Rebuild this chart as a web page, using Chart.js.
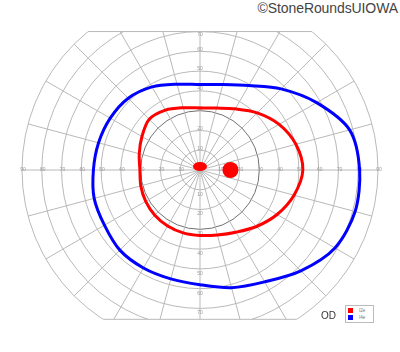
<!DOCTYPE html>
<html lang="en">
<head>
<meta charset="UTF-8">
<title>Goldmann Visual Field - OD</title>
<script src="https://cdn.jsdelivr.net/npm/chart.js"></script>
<style>
  html, body { margin: 0; padding: 0; background: #fff; overflow: hidden; }
  body { width: 400px; height: 352px; position: relative; font-family: "Liberation Sans", Arial, sans-serif; }
  #field { position: absolute; left: 0; top: -30px; }
  #credit { position: absolute; right: 2px; top: 0; font-size: 14px; color: #444; letter-spacing: -0.1px; }
  #eye { position: absolute; left: 321px; top: 310px; font-size: 10px; color: #333; }
  #legend { position: absolute; left: 345px; top: 305px; width: 27px; height: 15px; border: 1px solid #bbb; background: #fff; padding-top: 1px; box-sizing: content-box; }
  #legend .item { display: flex; align-items: center; height: 7px; font-size: 4.5px; color: #777; }
  #legend .swatch { width: 5px; height: 5px; margin: 0 6px 0 2px; }
</style>
</head>
<body>

<div id="credit">©StoneRoundsUIOWA</div>
<canvas id="field" width="400" height="400"></canvas>
<div id="eye">OD</div>
<div id="legend"></div>

<script>
// meridians every 15 deg, clockwise from superior (index 6 = temporal for OD)
const meridians = ['0°', '15°', '30°', '45°', '60°', '75°', '90°', '105°', '120°', '135°', '150°', '165°',
                   '180°', '195°', '210°', '225°', '240°', '255°', '270°', '285°', '300°', '315°', '330°', '345°'];

const isopterNames = ['I2e', 'I4e'];
const isopterColors = ['#ff0000', '#0000ff'];

// eccentricity in degrees along each meridian
const i2e = [31.4, 32.4, 35.7, 40.9, 46.2, 50.2, 52.0, 49.2, 45.0, 40.4, 36.3, 34.0,
             33.1, 32.9, 32.7, 32.3, 31.7, 31.0, 30.4, 31.8, 33.9, 36.3, 35.0, 32.6];
const i4e = [43.2, 44.7, 49.3, 58.0, 68.1, 78.3, 80.7, 81.2, 78.8, 72.1, 65.3, 61.6,
             58.0, 57.0, 57.2, 57.3, 55.8, 55.4, 53.9, 53.1, 52.4, 51.3, 48.5, 44.9];

// blind spot (temporal) and fixation mark
const blindSpot = [null, null, null, null, null, null, 15.4, null, null, null, null, null,
                   null, null, null, null, null, null, null, null, null, null, null, null];
const fixation = [1.8, null, null, null, null, null, null, null, null, null, null, null,
                  null, null, null, null, null, null, null, null, null, null, null, null];

// tick labels along the horizontal and vertical meridians
const horizTicks = [10, 20, 30, 40, 50, 60, 70, 80, 90];
const vertTicks = [10, 20, 30, 40, 50, 60, 70];

// the field is cut off above and below
const fieldTop = 70;
const fieldBottom = 75.5;

const gridColor = '#b9b9b9';

function blob(w, h, color) {
  const c = document.createElement('canvas');
  c.width = w; c.height = h;
  const g = c.getContext('2d');
  g.fillStyle = color;
  g.beginPath();
  g.ellipse(w / 2, h / 2, w / 2, h / 2, 0, 0, Math.PI * 2);
  g.fill();
  return c;
}

const fieldFrame = {
  id: 'fieldFrame',
  beforeDraw(chart) {
    const r = chart.scales.r;
    const top = r.yCenter - r.getDistanceFromCenterForValue(fieldTop);
    const bottom = r.yCenter + r.getDistanceFromCenterForValue(fieldBottom);
    chart.ctx.save();
    chart.ctx.beginPath();
    chart.ctx.rect(0, top, chart.width, bottom - top);
    chart.ctx.clip();
  },
  beforeDatasetsDraw(chart) {
    const r = chart.scales.r;
    const ctx = chart.ctx;
    const top = r.yCenter - r.getDistanceFromCenterForValue(fieldTop);
    ctx.save();
    ctx.font = '5px "Liberation Sans", Arial, sans-serif';
    ctx.fillStyle = '#999';
    ctx.textAlign = 'center';
    ctx.textBaseline = 'middle';
    horizTicks.forEach(v => {
      [6, 18].forEach(i => {
        const p = r.getPointPositionForValue(i, v);
        ctx.fillText(String(v), p.x + (i === 6 ? 1 : 1), p.y);
      });
    });
    vertTicks.forEach(v => {
      const up = r.getPointPositionForValue(0, v);
      ctx.fillText(String(v), up.x, Math.max(up.y - 2, top + 3));
      const dn = r.getPointPositionForValue(12, v);
      ctx.fillText(String(v), dn.x, dn.y + 4.5);
    });
    ctx.restore();
  },
  afterDraw(chart) {
    const ctx = chart.ctx;
    ctx.restore();
    const r = chart.scales.r;
    const R = r.drawingArea;
    ctx.save();
    ctx.strokeStyle = gridColor;
    ctx.lineWidth = 1;
    [-fieldTop, fieldBottom].forEach(v => {
      const dy = r.getDistanceFromCenterForValue(Math.abs(v));
      const half = Math.sqrt(R * R - dy * dy);
      const y = r.yCenter + Math.sign(v) * dy;
      ctx.beginPath();
      ctx.moveTo(r.xCenter - half, y);
      ctx.lineTo(r.xCenter + half, y);
      ctx.stroke();
    });
    ctx.restore();
  }
};

const datasets = [
  { label: isopterNames[0], data: i2e, borderColor: isopterColors[0], borderWidth: 3,
    pointRadius: 0, fill: false, tension: 0.3 },
  { label: isopterNames[1], data: i4e, borderColor: isopterColors[1], borderWidth: 3,
    pointRadius: 0, fill: false, tension: 0.3 },
  { label: 'blind spot', data: blindSpot, showLine: false, pointRadius: 8, pointBorderWidth: 0,
    pointBackgroundColor: isopterColors[0], pointBorderColor: isopterColors[0] },
  { label: 'fixation', data: fixation, showLine: false, pointStyle: blob(14, 9, isopterColors[0]),
    pointRadius: 6, pointBorderWidth: 0 }
];

new Chart(document.getElementById('field').getContext('2d'), {
  type: 'radar',
  data: { labels: meridians, datasets: datasets },
  options: {
    responsive: false,
    animation: false,
    layout: { padding: 22 },
    plugins: { legend: { display: false }, tooltip: { enabled: false } },
    scales: {
      r: {
        min: 0,
        max: 90,
        startAngle: 0,
        ticks: { stepSize: 10, display: false },
        pointLabels: { display: false },
        grid: {
          circular: true,
          lineWidth: 1,
          color: c => (c.tick && c.tick.value === 30) ? '#707070' : gridColor
        },
        angleLines: { color: gridColor, lineWidth: 1 }
      }
    }
  },
  plugins: [fieldFrame]
});

// small legend box in the corner
const legend = document.getElementById('legend');
isopterNames.forEach((name, i) => {
  const row = document.createElement('div');
  row.className = 'item';
  row.innerHTML = '<span class="swatch" style="background:' + isopterColors[i] + '"></span><span>' + name + '</span>';
  legend.appendChild(row);
});
</script>

</body>
</html>
